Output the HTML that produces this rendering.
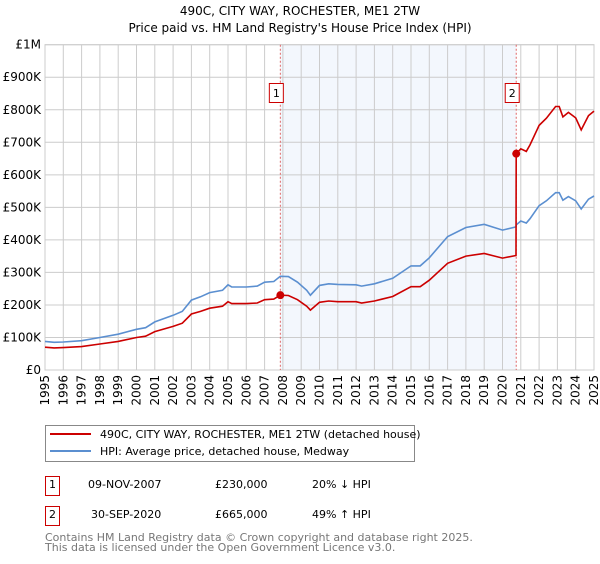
<!DOCTYPE html>
<html><head><meta charset="utf-8"><style>
body{margin:0;background:#fff;font-family:"DejaVu Sans","Liberation Sans",sans-serif;}
svg text{font-family:"DejaVu Sans","Liberation Sans",sans-serif;}
</style></head><body>
<svg id="chart" width="600" height="560" xmlns="http://www.w3.org/2000/svg">
<text x="300" y="15" text-anchor="middle" font-size="12">490C, CITY WAY, ROCHESTER, ME1 2TW</text>
<text x="300" y="32" text-anchor="middle" font-size="12">Price paid vs. HM Land Registry's House Price Index (HPI)</text>
<g id="plot"></g>
<g>
<rect x="45.5" y="425.5" width="369" height="36" fill="#fff" stroke="#888"/>
<line x1="50" y1="434" x2="91" y2="434" stroke="#cc0000" stroke-width="2"/>
<text x="100" y="438" font-size="11">490C, CITY WAY, ROCHESTER, ME1 2TW (detached house)</text>
<line x1="50" y1="451" x2="91" y2="451" stroke="#5b8fd0" stroke-width="2"/>
<text x="100" y="455" font-size="11">HPI: Average price, detached house, Medway</text>
</g>
<g font-size="11">
<rect x="45.5" y="476.5" width="14" height="19" fill="#fff" stroke="#cc0000"/>
<text x="52.5" y="488" text-anchor="middle">1</text>
<text x="88" y="488">09-NOV-2007</text>
<text x="215" y="488">£230,000</text>
<text x="312" y="488">20% ↓ HPI</text>
<rect x="45.5" y="506.5" width="14" height="19" fill="#fff" stroke="#cc0000"/>
<text x="52.5" y="518" text-anchor="middle">2</text>
<text x="91" y="518">30-SEP-2020</text>
<text x="215" y="518">£665,000</text>
<text x="312" y="518">49% ↑ HPI</text>
</g>
<text x="45" y="541" font-size="11" fill="#777">Contains HM Land Registry data © Crown copyright and database right 2025.</text>
<text x="45" y="551" font-size="11" fill="#777">This data is licensed under the Open Government Licence v3.0.</text>
</svg>
<script>
const years=[1995,1995.5,1996,1997,1998,1999,2000,2000.5,2001,2002,2002.5,2003,2003.5,2004,2004.7,2005,2005.2,2006,2006.6,2007,2007.5,2007.86,2008.3,2008.8,2009.3,2009.5,2010,2010.5,2011,2012,2012.3,2013,2014,2015,2015.5,2016,2017,2018,2019,2020,2020.74,2020.75,2021,2021.3,2021.5,2022,2022.4,2022.9,2023.1,2023.3,2023.6,2024,2024.3,2024.7,2025];
const hpiValues=[88,85,86,90,100,110,125,130,148,168,180,215,225,238,245,262,255,255,258,270,272,288,287,270,245,230,260,265,263,262,258,265,282,320,320,345,410,438,448,430,440,446,458,452,465,505,520,545,545,522,533,520,495,525,535];
const propertyValues=[70,68,69,72,80,88,100,104,118,134,144,172,180,190,196,210,204,204,206,216,218,230,229,216,196,184,208,212,210,210,206,212,226,256,256,276,328,350,358,344,352,665,680,672,692,752,774,810,810,778,792,775,738,782,796];
const yTicks=[0,100,200,300,400,500,600,700,800,900,1000];
const yTickLabels=["£0","£100K","£200K","£300K","£400K","£500K","£600K","£700K","£800K","£900K","£1M"];
const xTicks=[1995,1996,1997,1998,1999,2000,2001,2002,2003,2004,2005,2006,2007,2008,2009,2010,2011,2012,2013,2014,2015,2016,2017,2018,2019,2020,2021,2022,2023,2024,2025];
const saleDates=[2007.86,2020.75];
const saleValues=[230,665];
const saleLabels=["1","2"];

const L=45,R=594,T=44.7,B=370;
const xs=y=>L+(y-1995)/30*(R-L);
const ys=v=>B-v/1000*(B-T);
const NS="http://www.w3.org/2000/svg";
const g=document.getElementById('plot');
function mk(tag,attrs){const e=document.createElementNS(NS,tag);for(const k in attrs)e.setAttribute(k,attrs[k]);g.appendChild(e);return e;}
let shade=mk('rect',{x:xs(saleDates[0]),y:T,width:xs(saleDates[1])-xs(saleDates[0]),height:B-T,fill:'#eef3fc',opacity:0.7});


yTicks.forEach((v,i)=>{
 let l=mk('line',{x1:L,x2:R,y1:ys(v),y2:ys(v),stroke:'#cccccc'});
 
 
 let t=mk('text',{x:L-4,y:ys(v)+4,'text-anchor':'end','font-size':12});
 t.textContent=yTickLabels[i];
 
 
});
xTicks.forEach(y=>{
 let l=mk('line',{x1:xs(y),x2:xs(y),y1:T,y2:B,stroke:'#cccccc'});
 
 
 let t=mk('text',{x:0,y:0,'font-size':12,'text-anchor':'end',transform:`translate(${xs(y)+4},${B+5}) rotate(-90)`});
 t.textContent=y;
 
 
});
let frame=mk('rect',{x:L,y:T,width:R-L,height:B-T,fill:'none',stroke:'#cccccc'});


saleDates.forEach((d,i)=>{
 let l=mk('line',{x1:xs(d),x2:xs(d),y1:T,y2:B,stroke:'#e06666','stroke-dasharray':'2,2'});
 
 
});
function path(vals,color,name){
 let d=years.map((y,i)=>(i?'L':'M')+xs(y).toFixed(1)+','+ys(vals[i]).toFixed(1)).join('');
 let p=mk('path',{d:d,fill:'none',stroke:color,'stroke-width':1.6});
 
 
}
path(hpiValues,'#5b8fd0','hpi-line');
path(propertyValues,'#cc0000','property-price-line');
saleDates.forEach((d,i)=>{
 let c=mk('circle',{cx:xs(d),cy:ys(saleValues[i]),r:4,fill:'#cc0000'});
 
 
 let bx=xs(d)-11;
 let r=mk('rect',{x:bx,y:83.5,width:14,height:19,fill:'#fff',stroke:'#cc0000'});
 
 
 let t=mk('text',{x:bx+7,y:97,'text-anchor':'middle','font-size':11});
 t.textContent=saleLabels[i];
 
 
});
</script>
</body></html>
